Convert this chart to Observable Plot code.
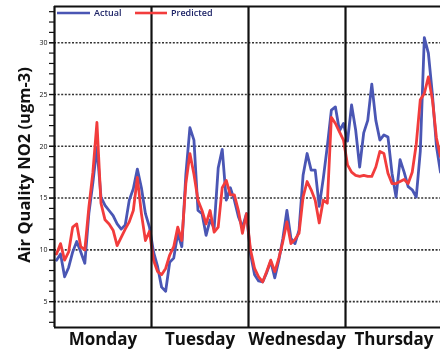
<!DOCTYPE html>
<html><head><meta charset="utf-8">
<script src="https://cdn.jsdelivr.net/npm/d3@7"></script>
<script src="https://cdn.jsdelivr.net/npm/@observablehq/plot@0.6"></script>
<style>
body{margin:0;background:#fff}
#wrap{position:relative;width:440px;height:352px;overflow:hidden}
#legend{position:absolute;left:0;top:0}
</style>
</head><body><div id="wrap"></div>
<script>
const days = ["Monday", "Tuesday", "Wednesday", "Thursday"];
const seriesNames = ["Actual", "Predicted"];
const seriesColors = ["#4a56b4", "#f23c3c"];
const yTitle = "Air Quality NO2 (ugm-3)";
const yTicks = [5, 10, 15, 20, 25, 30];
const yMinorTicks = d3.range(3, 34);
const yDomain = [2.5, 33.5];
const hoursPerDay = 24;

const actualMon = [9.0, 9.6, 7.4, 8.3, 9.8, 10.8, 9.8, 8.7, 13.5, 16.5, 19.9, 15.1, 14.3, 13.8, 13.3, 12.5, 12.0, 12.4, 14.8, 15.9, 17.8, 16.0, 13.5, 12.2];
const actualTue = [9.8, 8.4, 6.4, 6.0, 8.8, 9.2, 11.6, 10.3, 17.3, 21.8, 20.6, 13.8, 13.5, 11.4, 12.9, 12.1, 17.9, 19.7, 14.8, 16.0, 14.8, 13.2, 12.2, 13.5];
const actualWed = [9.6, 7.6, 7.0, 6.9, 7.8, 8.9, 7.3, 9.0, 11.1, 13.8, 11.1, 10.6, 11.9, 17.2, 19.3, 17.7, 17.7, 14.2, 16.9, 20.0, 23.5, 23.8, 21.5, 22.2];
const actualThu = [20.5, 24.0, 21.6, 18.0, 21.3, 22.5, 26.0, 22.5, 20.6, 21.1, 20.9, 17.4, 15.1, 18.7, 17.5, 16.1, 15.8, 15.1, 19.5, 30.5, 29.0, 25.0, 20.0, 17.5];

const predMon = [9.6, 10.6, 9.0, 9.8, 12.2, 12.5, 10.3, 10.0, 14.1, 17.5, 22.3, 14.5, 12.9, 12.5, 11.9, 10.4, 11.2, 12.0, 12.7, 13.8, 17.0, 13.5, 10.9, 11.8];
const predTue = [9.0, 7.9, 7.6, 8.2, 9.5, 10.3, 12.2, 10.9, 16.4, 19.3, 17.3, 14.8, 13.8, 12.5, 13.8, 11.7, 12.2, 16.0, 16.7, 15.3, 15.3, 13.8, 11.6, 13.5];
const predWed = [10.0, 8.2, 7.4, 6.9, 7.9, 9.0, 7.9, 9.2, 10.8, 12.7, 10.6, 11.0, 11.6, 15.1, 16.6, 15.8, 14.8, 12.6, 14.8, 14.5, 22.8, 22.2, 21.4, 20.6];
const predThu = [18.2, 17.5, 17.2, 17.1, 17.2, 17.1, 17.1, 18.0, 19.5, 19.3, 17.4, 16.4, 16.4, 16.6, 16.8, 16.4, 17.5, 20.2, 24.5, 25.1, 26.7, 24.5, 20.8, 19.0];

const actual = [actualMon, actualTue, actualWed, actualThu].flat();
const predicted = [predMon, predTue, predWed, predThu].flat();
const actualRows = actual.map((v, i) => ({t: i + 0.5, v, s: seriesNames[0]}));
const predRows = predicted.map((v, i) => ({t: i + 0.5, v, s: seriesNames[1]}));
const boundaries = days.slice(1).map((d, i) => (i + 1) * hoursPerDay);
const dayCenters = days.map((d, i) => i * hoursPerDay + hoursPerDay / 2);

const chart = Plot.plot({
  width: 440, height: 352,
  marginLeft: 54, marginRight: 0, marginTop: 6, marginBottom: 25,
  style: {fontFamily: "'Open Sans', sans-serif", background: "white", color: "#111"},
  x: {domain: [0, 95.5], label: null},
  y: {domain: yDomain, label: null},
  color: {domain: seriesNames, range: seriesColors},
  marks: [
    Plot.ruleY(yTicks, {stroke: "#333", strokeWidth: 1.6, strokeDasharray: "2,1.6"}),
    Plot.line(actualRows, {x: "t", y: "v", stroke: "s", strokeWidth: 2.8, clip: true}),
    Plot.line(predRows, {x: "t", y: "v", stroke: "s", strokeWidth: 2.8, clip: true, mixBlendMode: "multiply"}),
    Plot.ruleX(boundaries, {stroke: "#111", strokeWidth: 2.2}),
    Plot.ruleX([0], {stroke: "#111", strokeWidth: 2.2}),
    Plot.ruleY(yDomain, {stroke: "#111", strokeWidth: 2.2}),
    Plot.axisY(yMinorTicks, {tickSize: 5, tickFormat: () => "", strokeWidth: 1.2, label: null}),
    Plot.axisY(yTicks, {tickSize: 5, tickPadding: 2, fontSize: 7, strokeWidth: 1.2, label: null}),
    Plot.axisX(dayCenters, {tickSize: 0, tickPadding: 5, fontSize: 17, fontWeight: "bold", label: null,
      tickFormat: d => days[Math.floor(d / hoursPerDay)]}),
    Plot.text([yTitle], {text: d => d, frameAnchor: "left", textAnchor: "middle", rotate: -90, dx: -30, dy: -2,
      fontSize: 16.5, fontWeight: "bold"})
  ]
});
const wrap = document.getElementById("wrap");
wrap.appendChild(chart);

// legend (inside the plot, top-left)
const legend = d3.select(wrap).append("svg").attr("id", "legend").attr("width", 440).attr("height", 24)
  .style("font-family", "'Open Sans', sans-serif");
const legendItems = [{x: 57, w: 33}, {x: 135, w: 32}];
seriesNames.forEach((name, i) => {
  const it = legendItems[i];
  legend.append("line").attr("x1", it.x).attr("x2", it.x + it.w).attr("y1", 13).attr("y2", 13)
    .attr("stroke", seriesColors[i]).attr("stroke-width", 2.6);
  legend.append("text").attr("x", it.x + it.w + 4).attr("y", 16).attr("font-size", 9)
    .attr("font-weight", 600).attr("fill", "#1c2266").text(name);
});
</script>
</body></html>
